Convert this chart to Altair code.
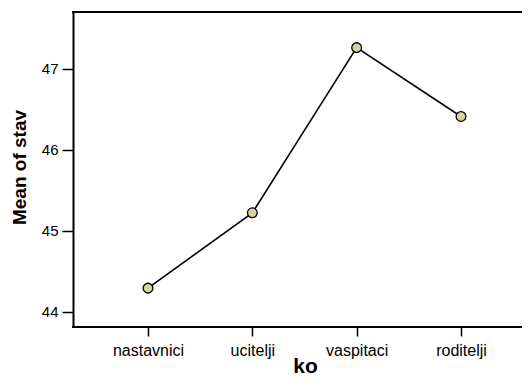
import altair as alt
import pandas as pd

categories = ["nastavnici", "ucitelji", "vaspitaci", "roditelji"]
means = [44.29, 45.22, 47.26, 46.41]
y_ticks = [44, 45, 46, 47]

df = pd.DataFrame({"ko": categories, "mean": means})

W, H = 449, 315

x = alt.X(
    "ko:N",
    sort=categories,
    scale=alt.Scale(type="point", range=[75, 388], padding=0),
    axis=alt.Axis(
        title="ko",
        labelAngle=0,
        labelFont="Liberation Sans",
        labelFontSize=16,
        labelColor="black",
        labelPadding=6,
        tickSize=9,
        tickColor="black",
        tickWidth=1.5,
        domain=False,
        titleFont="Liberation Sans",
        titleFontSize=21,
        titleFontWeight="bold",
        titleColor="black",
        titleBaseline="alphabetic",
        titleY=45,
        titleX=232,
    ),
)
y = alt.Y(
    "mean:Q",
    scale=alt.Scale(domain=[43.81, 47.70], nice=False, zero=False),
    axis=alt.Axis(
        title="Mean of stav",
        values=y_ticks,
        format="d",
        labelFont="Liberation Sans",
        labelFontSize=15,
        labelColor="black",
        labelPadding=4,
        tickSize=11,
        tickColor="black",
        tickWidth=1.5,
        domain=True,
        domainColor="black",
        domainWidth=2,
        grid=False,
        titleFont="Liberation Sans",
        titleFontSize=19,
        titleFontWeight="bold",
        titleColor="black",
        titleAngle=-90,
        titleBaseline="alphabetic",
        titleAlign="center",
        titleX=-48,
        titleY=155,
    ),
)

line = alt.Chart(df).mark_line(color="black", strokeWidth=1.6).encode(x=x, y=y)
points = alt.Chart(df).mark_point(
    shape="circle", filled=True, fill="#d7d3a0", stroke="black", strokeWidth=1.3, size=95, opacity=1
).encode(x=x, y=y)
top_frame = alt.Chart(df).mark_rule(color="black", strokeWidth=2).encode(
    y=alt.value(0), x=alt.value(-1), x2=alt.value(W)
)
bottom_frame = alt.Chart(df).mark_rule(color="black", strokeWidth=2).encode(
    y=alt.value(H), x=alt.value(-1), x2=alt.value(W)
)

chart = (
    alt.layer(line, points, top_frame, bottom_frame)
    .properties(
        width=W,
        height=H,
        background="white",
        autosize=alt.AutoSizeParams(type="none"),
        padding={"left": 65, "top": 4, "right": 0, "bottom": 48},
    )
    .configure_view(stroke=None)
)

chart.save("out.html", embed_options={"renderer": "svg", "actions": False})
